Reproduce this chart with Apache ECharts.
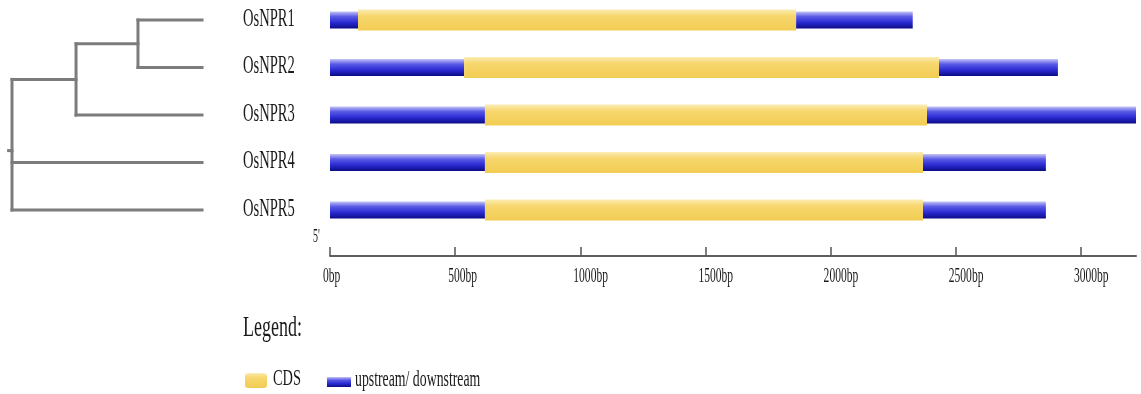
<!DOCTYPE html>
<html>
<head>
<meta charset="utf-8">
<title>OsNPR gene structure</title>
<script src="https://cdn.jsdelivr.net/npm/echarts@6/dist/echarts.min.js"></script>
<style>
  html, body { margin: 0; padding: 0; background: #ffffff; }
  #chart { width: 1141px; height: 394px; }
</style>
</head>
<body>
<div id="chart"></div>
<script>
// Gene names, top to bottom
const genes = ['OsNPR1', 'OsNPR2', 'OsNPR3', 'OsNPR4', 'OsNPR5'];
// Segment boundaries in bp: 5' flank end (= CDS start), CDS end, 3' flank end
const cdsStart = [112, 536, 619, 619, 619];
const cdsEnd = [1862, 2433, 2385, 2369, 2369];
const geneEnd = [2328, 2908, 3220, 2860, 2860];
// Scale ticks
const tickValues = [0, 500, 1000, 1500, 2000, 2500, 3000];
const tickLabels = ['0bp', '500bp', '1000bp', '1500bp', '2000bp', '2500bp', '3000bp'];
// Dendrogram: internal nodes with their relative depth (root 0, leaves 1)
const treeNodes = [
  { id: 'A', children: ['OsNPR1', 'OsNPR2'], depth: 0.663 },
  { id: 'B', children: ['A', 'OsNPR3'], depth: 0.337 },
  { id: 'root', children: ['B', 'OsNPR4', 'OsNPR5'], depth: 0 }
];
const leafDepth = 1;
const axisMax = 3220;

const FONT = '"Liberation Serif", "Times New Roman", serif';
const TEXT_COLOR = '#1a1a1a';

function blueFill() {
  return new echarts.graphic.LinearGradient(0, 0, 0, 1, [
    { offset: 0, color: '#c4c4f6' },
    { offset: 0.3, color: '#5a5ae6' },
    { offset: 0.65, color: '#2a2ad2' },
    { offset: 1, color: '#0c0c86' }
  ]);
}
function yellowFill() {
  return new echarts.graphic.LinearGradient(0, 0, 0, 1, [
    { offset: 0, color: '#fbecb4' },
    { offset: 0.3, color: '#f7d76e' },
    { offset: 1, color: '#f2cc52' }
  ]);
}

// Bar segments: [start, end, row]
const flankData = [];
const cdsData = [];
genes.forEach((g, i) => {
  flankData.push([0, cdsStart[i], i]);
  flankData.push([cdsEnd[i], geneEnd[i], i]);
  cdsData.push([cdsStart[i], cdsEnd[i], i]);
});

// Dendrogram segments: [x1, y1, x2, y2] in (depth, row) units
const pos = {};
genes.forEach((g, i) => { pos[g] = { x: leafDepth, y: i }; });
const treeSegments = [];
treeNodes.forEach(n => {
  const ys = n.children.map(c => pos[c].y);
  const y = ys.reduce((a, b) => a + b, 0) / ys.length;
  pos[n.id] = { x: n.depth, y: y };
  treeSegments.push([n.depth, Math.min(...ys), n.depth, Math.max(...ys)]);
  n.children.forEach(c => treeSegments.push([n.depth, pos[c].y, pos[c].x, pos[c].y]));
});
const rootNode = pos['root'];
treeSegments.push([rootNode.x - 0.018, rootNode.y, rootNode.x, rootNode.y]);

function segmentRenderer(height, fillFn) {
  return function (params, api) {
    const s = api.coord([api.value(0), api.value(2)]);
    const e = api.coord([api.value(1), api.value(2)]);
    return {
      type: 'rect',
      shape: { x: s[0], y: s[1] - height / 2, width: e[0] - s[0], height: height },
      style: { fill: fillFn() }
    };
  };
}

const chart = echarts.init(document.getElementById('chart'));
chart.setOption({
  backgroundColor: '#ffffff',
  animation: false,
  grid: [
    { left: 330, width: 806, top: 20, height: 190 },
    { left: 12, width: 190, top: 20, height: 190 }
  ],
  xAxis: [
    {
      gridIndex: 0, type: 'value', min: 0, max: axisMax, interval: 500,
      position: 'bottom', offset: 46,
      splitLine: { show: false },
      axisLine: { show: true, onZero: false, lineStyle: { color: '#5e5e5e', width: 2 } },
      axisTick: { show: true, inside: true, length: 9, customValues: tickValues,
        lineStyle: { color: '#555555', width: 1.5 } },
      axisLabel: { show: false }
    },
    { gridIndex: 1, type: 'value', min: 0, max: 1, show: false }
  ],
  yAxis: [
    { gridIndex: 0, type: 'value', min: 0, max: genes.length - 1, inverse: true, show: false },
    { gridIndex: 1, type: 'value', min: 0, max: genes.length - 1, inverse: true, show: false }
  ],
  series: [
    {
      name: 'upstream/ downstream', type: 'custom', xAxisIndex: 0, yAxisIndex: 0,
      data: flankData, encode: { x: [0, 1], y: 2 },
      renderItem: segmentRenderer(17, blueFill), silent: true
    },
    {
      name: 'CDS', type: 'custom', xAxisIndex: 0, yAxisIndex: 0,
      data: cdsData, encode: { x: [0, 1], y: 2 },
      renderItem: segmentRenderer(21, yellowFill), silent: true
    },
    {
      // gene names left of the bars, in a tall narrow face
      name: 'names', type: 'custom', xAxisIndex: 0, yAxisIndex: 0,
      data: genes.map((g, i) => [0, i]), encode: { x: 0, y: 1 },
      silent: true,
      renderItem: function (params, api) {
        const p = api.coord([api.value(0), api.value(1)]);
        return {
          type: 'text', x: p[0] - 87, y: p[1] - 1, scaleX: 0.56,
          style: { text: genes[params.dataIndex], fontSize: 26, fontFamily: FONT,
            fill: TEXT_COLOR, align: 'left', verticalAlign: 'middle' }
        };
      }
    },
    {
      // scale labels under the axis line
      name: 'ticks', type: 'custom', xAxisIndex: 0, yAxisIndex: 0,
      data: tickValues.map(v => [v, genes.length - 1]), encode: { x: 0, y: 1 },
      silent: true,
      renderItem: function (params, api) {
        const p = api.coord([api.value(0), api.value(1)]);
        return {
          type: 'text', x: p[0] - 7, y: p[1] + 66, scaleX: 0.55,
          style: { text: tickLabels[params.dataIndex], fontSize: 21, fontFamily: FONT,
            fill: TEXT_COLOR, align: 'left', verticalAlign: 'middle' }
        };
      }
    },
    {
      name: 'tree', type: 'custom', xAxisIndex: 1, yAxisIndex: 1,
      data: treeSegments, encode: { x: [0, 2], y: [1, 3] },
      silent: true,
      renderItem: function (params, api) {
        const a = api.coord([api.value(0), api.value(1)]);
        const b = api.coord([api.value(2), api.value(3)]);
        return {
          type: 'line',
          shape: { x1: a[0], y1: a[1], x2: b[0], y2: b[1] },
          style: { stroke: '#7c7c7c', lineWidth: 3, lineCap: 'square' }
        };
      }
    }
  ],
  graphic: [
    {
      type: 'text', x: 313, y: 237, scaleX: 0.55,
      style: { text: "5'", fontSize: 18, fontFamily: FONT, fill: TEXT_COLOR,
        align: 'left', verticalAlign: 'middle' }
    },
    {
      type: 'text', x: 243, y: 328, scaleX: 0.6,
      style: { text: 'Legend:', fontSize: 30, fontFamily: FONT, fill: TEXT_COLOR,
        align: 'left', verticalAlign: 'middle' }
    },
    {
      type: 'rect', x: 245, y: 373,
      shape: { width: 22, height: 15, r: 3 },
      style: { fill: yellowFill() }
    },
    {
      type: 'text', x: 273, y: 379, scaleX: 0.6,
      style: { text: 'CDS', fontSize: 24, fontFamily: FONT, fill: TEXT_COLOR,
        align: 'left', verticalAlign: 'middle' }
    },
    {
      type: 'rect', x: 327, y: 377,
      shape: { width: 24, height: 10 },
      style: { fill: blueFill() }
    },
    {
      type: 'text', x: 355, y: 380, scaleX: 0.6,
      style: { text: 'upstream/ downstream', fontSize: 23, fontFamily: FONT, fill: TEXT_COLOR,
        align: 'left', verticalAlign: 'middle' }
    }
  ]
});
</script>
</body>
</html>
